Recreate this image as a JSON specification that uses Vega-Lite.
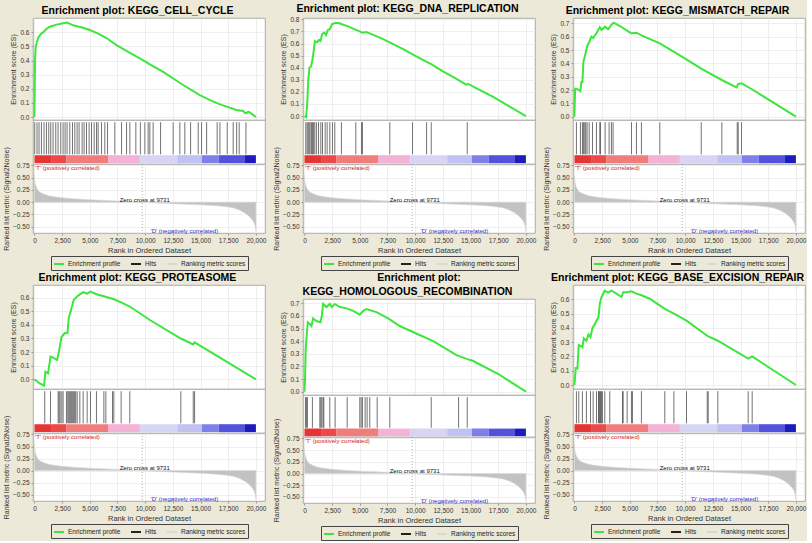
{
"$schema": "https://vega.github.io/schema/vega-lite/v6.json",
"background": "#ece9d8",
"padding": {"left": 2, "top": 3, "right": 0, "bottom": 0},
"datasets": {
"es1": [{"rank":0,"es":0},{"rank":30,"es":0.25},{"rank":60,"es":0.42},{"rank":120,"es":0.5},{"rank":330,"es":0.56},{"rank":600,"es":0.59},{"rank":780,"es":0.6},{"rank":1100,"es":0.625},{"rank":1390,"es":0.64},{"rank":2000,"es":0.655},{"rank":2590,"es":0.665},{"rank":2950,"es":0.67},{"rank":3490,"es":0.65},{"rank":4300,"es":0.635},{"rank":5000,"es":0.617},{"rank":5800,"es":0.59},{"rank":6500,"es":0.56},{"rank":7410,"es":0.51},{"rank":8500,"es":0.46},{"rank":9520,"es":0.416},{"rank":10500,"es":0.37},{"rank":11630,"es":0.32},{"rank":12500,"es":0.275},{"rank":13430,"es":0.227},{"rank":14940,"es":0.156},{"rank":16000,"es":0.115},{"rank":16750,"es":0.09},{"rank":17500,"es":0.07},{"rank":18250,"es":0.05},{"rank":18850,"es":0.043},{"rank":19000,"es":0.03},{"rank":19150,"es":0.028},{"rank":19310,"es":0.038},{"rank":19500,"es":0.03},{"rank":19800,"es":0.012},{"rank":20000,"es":0}],
"es2": [{"rank":0,"es":0},{"rank":150,"es":-0.01},{"rank":250,"es":0.1},{"rank":350,"es":0.3},{"rank":450,"es":0.4},{"rank":600,"es":0.41},{"rank":750,"es":0.48},{"rank":950,"es":0.62},{"rank":1150,"es":0.61},{"rank":1300,"es":0.63},{"rank":1450,"es":0.62},{"rank":1600,"es":0.68},{"rank":1800,"es":0.69},{"rank":1950,"es":0.67},{"rank":2100,"es":0.71},{"rank":2300,"es":0.72},{"rank":2500,"es":0.76},{"rank":2800,"es":0.77},{"rank":3100,"es":0.77},{"rank":3500,"es":0.755},{"rank":4000,"es":0.74},{"rank":4600,"es":0.715},{"rank":5000,"es":0.7},{"rank":5200,"es":0.69},{"rank":5600,"es":0.695},{"rank":6000,"es":0.68},{"rank":7000,"es":0.64},{"rank":7700,"es":0.61},{"rank":9000,"es":0.55},{"rank":9760,"es":0.51},{"rank":11000,"es":0.45},{"rank":11450,"es":0.43},{"rank":12500,"es":0.37},{"rank":13500,"es":0.32},{"rank":14600,"es":0.26},{"rank":14800,"es":0.265},{"rank":15500,"es":0.23},{"rank":17000,"es":0.16},{"rank":18500,"es":0.08},{"rank":20000,"es":0}],
"es3": [{"rank":0,"es":0},{"rank":60,"es":0.21},{"rank":330,"es":0.205},{"rank":540,"es":0.19},{"rank":630,"es":0.26},{"rank":720,"es":0.26},{"rank":810,"es":0.41},{"rank":960,"es":0.46},{"rank":1140,"es":0.525},{"rank":1330,"es":0.56},{"rank":1540,"es":0.6},{"rank":1690,"es":0.59},{"rank":1990,"es":0.625},{"rank":2290,"es":0.67},{"rank":2440,"es":0.65},{"rank":2770,"es":0.675},{"rank":3040,"es":0.655},{"rank":3340,"es":0.69},{"rank":3550,"es":0.705},{"rank":4100,"es":0.68},{"rank":4850,"es":0.64},{"rank":5150,"es":0.625},{"rank":5600,"es":0.63},{"rank":6050,"es":0.61},{"rank":7710,"es":0.55},{"rank":9820,"es":0.445},{"rank":11450,"es":0.36},{"rank":13310,"es":0.275},{"rank":14640,"es":0.22},{"rank":14790,"es":0.245},{"rank":15090,"es":0.25},{"rank":16140,"es":0.2},{"rank":20000,"es":0}],
"es4": [{"rank":0,"es":0},{"rank":480,"es":-0.03},{"rank":870,"es":-0.047},{"rank":990,"es":0.056},{"rank":1230,"es":0.044},{"rank":1450,"es":0.167},{"rank":1690,"es":0.16},{"rank":2050,"es":0.142},{"rank":2230,"es":0.21},{"rank":2440,"es":0.31},{"rank":2740,"es":0.34},{"rank":2980,"es":0.34},{"rank":3100,"es":0.45},{"rank":3340,"es":0.52},{"rank":3550,"es":0.585},{"rank":3950,"es":0.615},{"rank":4400,"es":0.64},{"rank":4760,"es":0.63},{"rank":5060,"es":0.645},{"rank":5600,"es":0.625},{"rank":6270,"es":0.61},{"rank":7110,"es":0.59},{"rank":7830,"es":0.565},{"rank":8610,"es":0.535},{"rank":10420,"es":0.436},{"rank":13220,"es":0.3},{"rank":14340,"es":0.257},{"rank":14460,"es":0.272},{"rank":16450,"es":0.174},{"rank":20000,"es":0}],
"es5": [{"rank":0,"es":0},{"rank":60,"es":0.12},{"rank":120,"es":0.35},{"rank":300,"es":0.55},{"rank":480,"es":0.536},{"rank":630,"es":0.52},{"rank":780,"es":0.58},{"rank":1080,"es":0.56},{"rank":1450,"es":0.55},{"rank":1570,"es":0.6},{"rank":1690,"es":0.695},{"rank":1990,"es":0.67},{"rank":2290,"es":0.695},{"rank":2470,"es":0.67},{"rank":2740,"es":0.695},{"rank":3190,"es":0.67},{"rank":3800,"es":0.66},{"rank":4400,"es":0.64},{"rank":5000,"es":0.61},{"rank":5300,"es":0.64},{"rank":5600,"es":0.655},{"rank":6500,"es":0.63},{"rank":7560,"es":0.58},{"rank":8610,"es":0.52},{"rank":10000,"es":0.465},{"rank":11630,"es":0.4},{"rank":13730,"es":0.29},{"rank":14640,"es":0.26},{"rank":15200,"es":0.245},{"rank":17500,"es":0.14},{"rank":20000,"es":0}],
"es6": [{"rank":0,"es":0},{"rank":120,"es":0.118},{"rank":270,"es":0.114},{"rank":390,"es":0.28},{"rank":630,"es":0.27},{"rank":720,"es":0.265},{"rank":840,"es":0.327},{"rank":1080,"es":0.31},{"rank":1270,"es":0.355},{"rank":1450,"es":0.336},{"rank":1630,"es":0.4},{"rank":1840,"es":0.426},{"rank":1990,"es":0.45},{"rank":2170,"es":0.474},{"rank":2290,"es":0.57},{"rank":2440,"es":0.616},{"rank":2740,"es":0.66},{"rank":3040,"es":0.647},{"rank":3340,"es":0.66},{"rank":3800,"es":0.64},{"rank":4250,"es":0.616},{"rank":4400,"es":0.65},{"rank":4760,"es":0.65},{"rank":5150,"es":0.656},{"rank":5600,"es":0.64},{"rank":6050,"es":0.628},{"rank":6800,"es":0.604},{"rank":8160,"es":0.533},{"rank":8980,"es":0.5},{"rank":10120,"es":0.45},{"rank":11990,"es":0.345},{"rank":12080,"es":0.34},{"rank":12950,"es":0.31},{"rank":15690,"es":0.185},{"rank":16050,"es":0.2},{"rank":20000,"es":0}],
"hits1": [{"rank":27},{"rank":235},{"rank":416},{"rank":633},{"rank":868},{"rank":1085},{"rank":1293},{"rank":1474},{"rank":1682},{"rank":1926},{"rank":2134},{"rank":2378},{"rank":2586},{"rank":2766},{"rank":2947},{"rank":3191},{"rank":3435},{"rank":3644},{"rank":3852},{"rank":4033},{"rank":4304},{"rank":4485},{"rank":4702},{"rank":4937},{"rank":5154},{"rank":5390},{"rank":5607},{"rank":5751},{"rank":6058},{"rank":6356},{"rank":6601},{"rank":7260},{"rank":7866},{"rank":8318},{"rank":8616},{"rank":9158},{"rank":9566},{"rank":9972},{"rank":10270},{"rank":10420},{"rank":10720},{"rank":11390},{"rank":12530},{"rank":13130},{"rank":13580},{"rank":14100},{"rank":14790},{"rank":15090},{"rank":15550},{"rank":16500},{"rank":16750},{"rank":17410},{"rank":17950},{"rank":18260},{"rank":18490},{"rank":19100}],
"hits2": [{"rank":120},{"rank":240},{"rank":330},{"rank":420},{"rank":510},{"rank":630},{"rank":720},{"rank":810},{"rank":930},{"rank":1080},{"rank":1270},{"rank":1480},{"rank":1630},{"rank":1870},{"rank":2050},{"rank":2290},{"rank":2530},{"rank":2740},{"rank":3340},{"rank":4640},{"rank":5150},{"rank":5240},{"rank":7710},{"rank":9760},{"rank":11030},{"rank":11450},{"rank":14700}],
"hits3": [{"rank":180},{"rank":540},{"rank":720},{"rank":810},{"rank":930},{"rank":1020},{"rank":1140},{"rank":1330},{"rank":1630},{"rank":1990},{"rank":2290},{"rank":2350},{"rank":2770},{"rank":3130},{"rank":3340},{"rank":3490},{"rank":5150},{"rank":5600},{"rank":6050},{"rank":7710},{"rank":11450},{"rank":13310},{"rank":14700},{"rank":14790},{"rank":15090}],
"hits4": [{"rank":930},{"rank":1450},{"rank":2140},{"rank":2230},{"rank":2320},{"rank":2470},{"rank":2590},{"rank":2890},{"rank":3010},{"rank":3100},{"rank":3190},{"rank":3280},{"rank":3370},{"rank":3460},{"rank":3550},{"rank":3640},{"rank":3730},{"rank":3860},{"rank":4100},{"rank":4400},{"rank":4760},{"rank":5060},{"rank":5600},{"rank":6270},{"rank":6450},{"rank":7050},{"rank":7170},{"rank":7830},{"rank":8610},{"rank":13220},{"rank":14340},{"rank":14460}],
"hits5": [{"rank":90},{"rank":180},{"rank":270},{"rank":720},{"rank":1390},{"rank":1480},{"rank":1570},{"rank":1690},{"rank":1750},{"rank":2290},{"rank":2770},{"rank":3860},{"rank":5000},{"rank":5120},{"rank":5240},{"rank":5480},{"rank":5660},{"rank":5900},{"rank":6570},{"rank":7710},{"rank":11450},{"rank":13920},{"rank":14700}],
"hits6": [{"rank":180},{"rank":390},{"rank":720},{"rank":1080},{"rank":1450},{"rank":1690},{"rank":1990},{"rank":2170},{"rank":2230},{"rank":2290},{"rank":2350},{"rank":2440},{"rank":2530},{"rank":2740},{"rank":3190},{"rank":4340},{"rank":4400},{"rank":4760},{"rank":5150},{"rank":5240},{"rank":6050},{"rank":8160},{"rank":8980},{"rank":10120},{"rank":11990},{"rank":12080},{"rank":12950},{"rank":15690},{"rank":16050}],
"metric": [{"rank":0,"metric":0.55},{"rank":30,"metric":0.45},{"rank":80,"metric":0.38},{"rank":150,"metric":0.32},{"rank":250,"metric":0.27},{"rank":400,"metric":0.22},{"rank":600,"metric":0.19},{"rank":900,"metric":0.16},{"rank":1300,"metric":0.13},{"rank":1800,"metric":0.11},{"rank":2500,"metric":0.09},{"rank":3500,"metric":0.07},{"rank":5000,"metric":0.05},{"rank":6500,"metric":0.035},{"rank":8000,"metric":0.02},{"rank":9000,"metric":0.01},{"rank":9731,"metric":0},{"rank":10500,"metric":-0.01},{"rank":12000,"metric":-0.025},{"rank":13500,"metric":-0.04},{"rank":15000,"metric":-0.055},{"rank":16500,"metric":-0.075},{"rank":17500,"metric":-0.1},{"rank":18000,"metric":-0.12},{"rank":18500,"metric":-0.16},{"rank":19000,"metric":-0.22},{"rank":19300,"metric":-0.27},{"rank":19600,"metric":-0.34},{"rank":19800,"metric":-0.4},{"rank":19950,"metric":-0.5},{"rank":20000,"metric":-0.6}],
"colorbar": [{"seg":"1","start":0,"end":1500},{"seg":"2","start":1500,"end":2900},{"seg":"3","start":2900,"end":6690},{"seg":"4","start":6690,"end":9520},{"seg":"5","start":9520,"end":12890},{"seg":"6","start":12890,"end":15120},{"seg":"7","start":15120,"end":16630},{"seg":"8","start":16630,"end":19010},{"seg":"9","start":19010,"end":20000}],
"zero": [{"rank":9731}],
"notes": [{"rank":60,"metric":0.7,"label":"'T' (positively correlated)","kind":"pos"},{"rank":7700,"metric":0.05,"label":"Zero cross at 9731","kind":"zero"},{"rank":10480,"metric":-0.58,"label":"'D' (negatively correlated)","kind":"neg"}],
"none": []
},
"spacing": 1,
"resolve": {"scale": {"stroke": "independent"}, "legend": {"stroke": "independent"}},
"vconcat": [
{"spacing": 5, "resolve": {"scale": {"stroke": "independent"}, "legend": {"stroke": "independent"}},
 "hconcat": [
 {"spacing": 0, "bounds": "flush", "resolve": {"scale": {"stroke": "independent"}, "legend": {"stroke": "independent"}},
  "vconcat": [
  {"width": 232, "height": 102, "title": {"text": "Enrichment plot: KEGG_CELL_CYCLE"}, "data": {"name": "es1"},
   "mark": {"type": "line", "color": "#3de63d", "strokeWidth": 2, "clip": true},
   "encoding": {"x": {"field": "rank", "type": "quantitative", "scale": {"domain": [-130, 20820], "nice": false, "zero": false}, "axis": {"labels": false, "ticks": false, "title": null, "values": [0,2500,5000,7500,10000,12500,15000,17500,20000], "tickCount": 20}},
    "y": {"field": "es", "type": "quantitative", "scale": {"domain": [-0.021, 0.702], "nice": false, "zero": false}, "axis": {"title": "Enrichment score (ES)", "values": [0,0.1,0.2,0.3,0.4,0.5,0.6], "format": ".1f", "labelOverlap": false, "tickCount": 20}}}},
  {"width": 232, "height": 44, "layer": [
   {"data": {"name": "colorbar"}, "mark": {"type": "rect"}, "encoding": {"x": {"field": "start", "type": "quantitative", "scale": {"domain": [-130, 20820], "nice": false, "zero": false}, "axis": null}, "x2": {"field": "end"}, "y": {"datum": 0.02, "type": "quantitative", "scale": {"domain": [0, 1], "nice": false}, "axis": null}, "y2": {"datum": 0.2}, "color": {"field": "seg", "type": "nominal", "scale": {"domain": ["1","2","3","4","5","6","7","8","9"], "range": ["#e53434","#ec4a4a","#f07c7c","#f4b2d6","#d6d6f4","#c2c2f2","#7f7fea","#5252dc","#1c1cbe"]}, "legend": null}}},
   {"data": {"name": "hits1"}, "mark": {"type": "rule", "color": "#3a3a3a", "strokeWidth": 0.9, "opacity": 0.8}, "encoding": {"x": {"field": "rank", "type": "quantitative"}, "y": {"datum": 0.22}, "y2": {"datum": 0.95}}}
  ]},
  {"width": 232, "height": 69, "layer": [
   {"data": {"name": "metric"}, "mark": {"type": "area", "fill": "#c2c2c2", "strokeWidth": 0.6, "clip": true},
    "encoding": {"x": {"field": "rank", "type": "quantitative", "scale": {"domain": [-130, 20820], "nice": false, "zero": false}, "axis": {"title": "Rank in Ordered Dataset", "titleFontSize": 7.5, "values": [0,2500,5000,7500,10000,12500,15000,17500,20000], "format": ",d", "labelOverlap": false, "tickCount": 20}},
     "y": {"field": "metric", "type": "quantitative", "scale": {"domain": [-0.63, 0.78], "nice": false, "zero": false}, "axis": {"title": "Ranked list metric (Signal2Noise)", "values": [-0.5,-0.25,0,0.25,0.5,0.75], "format": ".2f", "labelOverlap": false, "tickCount": 20}},
     "y2": {"datum": 0},
     "stroke": {"datum": "Ranking metric scores", "type": "nominal", "scale": {"domain": ["Enrichment profile","Hits","Ranking metric scores"], "range": ["#3de63d","#222222","#d8d8d8"]}, "legend": {"title": null, "orient": "bottom", "direction": "horizontal", "symbolType": "stroke", "symbolSize": 100, "symbolStrokeWidth": 2, "labelFontSize": 6.5, "labelFont": "Liberation Sans", "labelColor": "#222", "strokeColor": "#444", "padding": 2, "columnPadding": 6, "offset": 2, "labelOffset": 3}}}},
   {"data": {"name": "zero"}, "mark": {"type": "rule", "color": "#999", "strokeDash": [1, 2], "strokeWidth": 0.8}, "encoding": {"x": {"field": "rank", "type": "quantitative"}}},
   {"data": {"name": "notes"}, "transform": [{"filter": {"field": "kind", "equal": "pos"}}], "mark": {"type": "text", "fontSize": 6, "font": "Liberation Sans", "align": "left", "baseline": "middle", "color": "#d02020"}, "encoding": {"x": {"field": "rank", "type": "quantitative"}, "y": {"field": "metric", "type": "quantitative"}, "text": {"field": "label"}}},
   {"data": {"name": "notes"}, "transform": [{"filter": {"field": "kind", "equal": "zero"}}], "mark": {"type": "text", "fontSize": 6, "font": "Liberation Sans", "align": "left", "baseline": "middle", "color": "#111"}, "encoding": {"x": {"field": "rank", "type": "quantitative"}, "y": {"field": "metric", "type": "quantitative"}, "text": {"field": "label"}}},
   {"data": {"name": "notes"}, "transform": [{"filter": {"field": "kind", "equal": "neg"}}], "mark": {"type": "text", "fontSize": 6, "font": "Liberation Sans", "align": "left", "baseline": "middle", "color": "#3030c0"}, "encoding": {"x": {"field": "rank", "type": "quantitative"}, "y": {"field": "metric", "type": "quantitative"}, "text": {"field": "label"}}}
  ]}
 ]},
 {"spacing": 0, "bounds": "flush", "resolve": {"scale": {"stroke": "independent"}, "legend": {"stroke": "independent"}},
  "vconcat": [
  {"width": 232, "height": 102, "title": {"text": "Enrichment plot: KEGG_DNA_REPLICATION"}, "data": {"name": "es2"},
   "mark": {"type": "line", "color": "#3de63d", "strokeWidth": 2, "clip": true},
   "encoding": {"x": {"field": "rank", "type": "quantitative", "scale": {"domain": [-130, 20820], "nice": false, "zero": false}, "axis": {"labels": false, "ticks": false, "title": null, "values": [0,2500,5000,7500,10000,12500,15000,17500,20000], "tickCount": 20}},
    "y": {"field": "es", "type": "quantitative", "scale": {"domain": [-0.033, 0.811], "nice": false, "zero": false}, "axis": {"title": "Enrichment score (ES)", "values": [0,0.1,0.2,0.3,0.4,0.5,0.6,0.7,0.8], "format": ".1f", "labelOverlap": false, "tickCount": 20}}}},
  {"width": 232, "height": 44, "layer": [
   {"data": {"name": "colorbar"}, "mark": {"type": "rect"}, "encoding": {"x": {"field": "start", "type": "quantitative", "scale": {"domain": [-130, 20820], "nice": false, "zero": false}, "axis": null}, "x2": {"field": "end"}, "y": {"datum": 0.02, "type": "quantitative", "scale": {"domain": [0, 1], "nice": false}, "axis": null}, "y2": {"datum": 0.2}, "color": {"field": "seg", "type": "nominal", "scale": {"domain": ["1","2","3","4","5","6","7","8","9"], "range": ["#e53434","#ec4a4a","#f07c7c","#f4b2d6","#d6d6f4","#c2c2f2","#7f7fea","#5252dc","#1c1cbe"]}, "legend": null}}},
   {"data": {"name": "hits2"}, "mark": {"type": "rule", "color": "#3a3a3a", "strokeWidth": 0.9, "opacity": 0.8}, "encoding": {"x": {"field": "rank", "type": "quantitative"}, "y": {"datum": 0.22}, "y2": {"datum": 0.95}}}
  ]},
  {"width": 232, "height": 69, "layer": [
   {"data": {"name": "metric"}, "mark": {"type": "area", "fill": "#c2c2c2", "strokeWidth": 0.6, "clip": true},
    "encoding": {"x": {"field": "rank", "type": "quantitative", "scale": {"domain": [-130, 20820], "nice": false, "zero": false}, "axis": {"title": "Rank in Ordered Dataset", "titleFontSize": 7.5, "values": [0,2500,5000,7500,10000,12500,15000,17500,20000], "format": ",d", "labelOverlap": false, "tickCount": 20}},
     "y": {"field": "metric", "type": "quantitative", "scale": {"domain": [-0.63, 0.78], "nice": false, "zero": false}, "axis": {"title": "Ranked list metric (Signal2Noise)", "values": [-0.5,-0.25,0,0.25,0.5,0.75], "format": ".2f", "labelOverlap": false, "tickCount": 20}},
     "y2": {"datum": 0},
     "stroke": {"datum": "Ranking metric scores", "type": "nominal", "scale": {"domain": ["Enrichment profile","Hits","Ranking metric scores"], "range": ["#3de63d","#222222","#d8d8d8"]}, "legend": {"title": null, "orient": "bottom", "direction": "horizontal", "symbolType": "stroke", "symbolSize": 100, "symbolStrokeWidth": 2, "labelFontSize": 6.5, "labelFont": "Liberation Sans", "labelColor": "#222", "strokeColor": "#444", "padding": 2, "columnPadding": 6, "offset": 2, "labelOffset": 3}}}},
   {"data": {"name": "zero"}, "mark": {"type": "rule", "color": "#999", "strokeDash": [1, 2], "strokeWidth": 0.8}, "encoding": {"x": {"field": "rank", "type": "quantitative"}}},
   {"data": {"name": "notes"}, "transform": [{"filter": {"field": "kind", "equal": "pos"}}], "mark": {"type": "text", "fontSize": 6, "font": "Liberation Sans", "align": "left", "baseline": "middle", "color": "#d02020"}, "encoding": {"x": {"field": "rank", "type": "quantitative"}, "y": {"field": "metric", "type": "quantitative"}, "text": {"field": "label"}}},
   {"data": {"name": "notes"}, "transform": [{"filter": {"field": "kind", "equal": "zero"}}], "mark": {"type": "text", "fontSize": 6, "font": "Liberation Sans", "align": "left", "baseline": "middle", "color": "#111"}, "encoding": {"x": {"field": "rank", "type": "quantitative"}, "y": {"field": "metric", "type": "quantitative"}, "text": {"field": "label"}}},
   {"data": {"name": "notes"}, "transform": [{"filter": {"field": "kind", "equal": "neg"}}], "mark": {"type": "text", "fontSize": 6, "font": "Liberation Sans", "align": "left", "baseline": "middle", "color": "#3030c0"}, "encoding": {"x": {"field": "rank", "type": "quantitative"}, "y": {"field": "metric", "type": "quantitative"}, "text": {"field": "label"}}}
  ]}
 ]},
 {"spacing": 0, "bounds": "flush", "resolve": {"scale": {"stroke": "independent"}, "legend": {"stroke": "independent"}},
  "vconcat": [
  {"width": 232, "height": 102, "title": {"text": "Enrichment plot: KEGG_MISMATCH_REPAIR"}, "data": {"name": "es3"},
   "mark": {"type": "line", "color": "#3de63d", "strokeWidth": 2, "clip": true},
   "encoding": {"x": {"field": "rank", "type": "quantitative", "scale": {"domain": [-130, 20820], "nice": false, "zero": false}, "axis": {"labels": false, "ticks": false, "title": null, "values": [0,2500,5000,7500,10000,12500,15000,17500,20000], "tickCount": 20}},
    "y": {"field": "es", "type": "quantitative", "scale": {"domain": [-0.025, 0.74], "nice": false, "zero": false}, "axis": {"title": "Enrichment score (ES)", "values": [0,0.1,0.2,0.3,0.4,0.5,0.6,0.7], "format": ".1f", "labelOverlap": false, "tickCount": 20}}}},
  {"width": 232, "height": 44, "layer": [
   {"data": {"name": "colorbar"}, "mark": {"type": "rect"}, "encoding": {"x": {"field": "start", "type": "quantitative", "scale": {"domain": [-130, 20820], "nice": false, "zero": false}, "axis": null}, "x2": {"field": "end"}, "y": {"datum": 0.02, "type": "quantitative", "scale": {"domain": [0, 1], "nice": false}, "axis": null}, "y2": {"datum": 0.2}, "color": {"field": "seg", "type": "nominal", "scale": {"domain": ["1","2","3","4","5","6","7","8","9"], "range": ["#e53434","#ec4a4a","#f07c7c","#f4b2d6","#d6d6f4","#c2c2f2","#7f7fea","#5252dc","#1c1cbe"]}, "legend": null}}},
   {"data": {"name": "hits3"}, "mark": {"type": "rule", "color": "#3a3a3a", "strokeWidth": 0.9, "opacity": 0.8}, "encoding": {"x": {"field": "rank", "type": "quantitative"}, "y": {"datum": 0.22}, "y2": {"datum": 0.95}}}
  ]},
  {"width": 232, "height": 69, "layer": [
   {"data": {"name": "metric"}, "mark": {"type": "area", "fill": "#c2c2c2", "strokeWidth": 0.6, "clip": true},
    "encoding": {"x": {"field": "rank", "type": "quantitative", "scale": {"domain": [-130, 20820], "nice": false, "zero": false}, "axis": {"title": "Rank in Ordered Dataset", "titleFontSize": 7.5, "values": [0,2500,5000,7500,10000,12500,15000,17500,20000], "format": ",d", "labelOverlap": false, "tickCount": 20}},
     "y": {"field": "metric", "type": "quantitative", "scale": {"domain": [-0.63, 0.78], "nice": false, "zero": false}, "axis": {"title": "Ranked list metric (Signal2Noise)", "values": [-0.5,-0.25,0,0.25,0.5,0.75], "format": ".2f", "labelOverlap": false, "tickCount": 20}},
     "y2": {"datum": 0},
     "stroke": {"datum": "Ranking metric scores", "type": "nominal", "scale": {"domain": ["Enrichment profile","Hits","Ranking metric scores"], "range": ["#3de63d","#222222","#d8d8d8"]}, "legend": {"title": null, "orient": "bottom", "direction": "horizontal", "symbolType": "stroke", "symbolSize": 100, "symbolStrokeWidth": 2, "labelFontSize": 6.5, "labelFont": "Liberation Sans", "labelColor": "#222", "strokeColor": "#444", "padding": 2, "columnPadding": 6, "offset": 2, "labelOffset": 3}}}},
   {"data": {"name": "zero"}, "mark": {"type": "rule", "color": "#999", "strokeDash": [1, 2], "strokeWidth": 0.8}, "encoding": {"x": {"field": "rank", "type": "quantitative"}}},
   {"data": {"name": "notes"}, "transform": [{"filter": {"field": "kind", "equal": "pos"}}], "mark": {"type": "text", "fontSize": 6, "font": "Liberation Sans", "align": "left", "baseline": "middle", "color": "#d02020"}, "encoding": {"x": {"field": "rank", "type": "quantitative"}, "y": {"field": "metric", "type": "quantitative"}, "text": {"field": "label"}}},
   {"data": {"name": "notes"}, "transform": [{"filter": {"field": "kind", "equal": "zero"}}], "mark": {"type": "text", "fontSize": 6, "font": "Liberation Sans", "align": "left", "baseline": "middle", "color": "#111"}, "encoding": {"x": {"field": "rank", "type": "quantitative"}, "y": {"field": "metric", "type": "quantitative"}, "text": {"field": "label"}}},
   {"data": {"name": "notes"}, "transform": [{"filter": {"field": "kind", "equal": "neg"}}], "mark": {"type": "text", "fontSize": 6, "font": "Liberation Sans", "align": "left", "baseline": "middle", "color": "#3030c0"}, "encoding": {"x": {"field": "rank", "type": "quantitative"}, "y": {"field": "metric", "type": "quantitative"}, "text": {"field": "label"}}}
  ]}
 ]}
 ]},
{"spacing": 5, "resolve": {"scale": {"stroke": "independent"}, "legend": {"stroke": "independent"}},
 "hconcat": [
 {"spacing": 0, "bounds": "flush", "resolve": {"scale": {"stroke": "independent"}, "legend": {"stroke": "independent"}},
  "vconcat": [
  {"width": 232, "height": 104, "title": {"text": "Enrichment plot: KEGG_PROTEASOME"}, "data": {"name": "es4"},
   "mark": {"type": "line", "color": "#3de63d", "strokeWidth": 2, "clip": true},
   "encoding": {"x": {"field": "rank", "type": "quantitative", "scale": {"domain": [-130, 20820], "nice": false, "zero": false}, "axis": {"labels": false, "ticks": false, "title": null, "values": [0,2500,5000,7500,10000,12500,15000,17500,20000], "tickCount": 20}},
    "y": {"field": "es", "type": "quantitative", "scale": {"domain": [-0.071, 0.693], "nice": false, "zero": false}, "axis": {"title": "Enrichment score (ES)", "values": [0,0.1,0.2,0.3,0.4,0.5,0.6], "format": ".1f", "labelOverlap": false, "tickCount": 20}}}},
  {"width": 232, "height": 44, "layer": [
   {"data": {"name": "colorbar"}, "mark": {"type": "rect"}, "encoding": {"x": {"field": "start", "type": "quantitative", "scale": {"domain": [-130, 20820], "nice": false, "zero": false}, "axis": null}, "x2": {"field": "end"}, "y": {"datum": 0.02, "type": "quantitative", "scale": {"domain": [0, 1], "nice": false}, "axis": null}, "y2": {"datum": 0.2}, "color": {"field": "seg", "type": "nominal", "scale": {"domain": ["1","2","3","4","5","6","7","8","9"], "range": ["#e53434","#ec4a4a","#f07c7c","#f4b2d6","#d6d6f4","#c2c2f2","#7f7fea","#5252dc","#1c1cbe"]}, "legend": null}}},
   {"data": {"name": "hits4"}, "mark": {"type": "rule", "color": "#3a3a3a", "strokeWidth": 0.9, "opacity": 0.8}, "encoding": {"x": {"field": "rank", "type": "quantitative"}, "y": {"datum": 0.22}, "y2": {"datum": 0.95}}}
  ]},
  {"width": 232, "height": 68, "layer": [
   {"data": {"name": "metric"}, "mark": {"type": "area", "fill": "#c2c2c2", "strokeWidth": 0.6, "clip": true},
    "encoding": {"x": {"field": "rank", "type": "quantitative", "scale": {"domain": [-130, 20820], "nice": false, "zero": false}, "axis": {"title": "Rank in Ordered Dataset", "titleFontSize": 7.5, "values": [0,2500,5000,7500,10000,12500,15000,17500,20000], "format": ",d", "labelOverlap": false, "tickCount": 20}},
     "y": {"field": "metric", "type": "quantitative", "scale": {"domain": [-0.63, 0.78], "nice": false, "zero": false}, "axis": {"title": "Ranked list metric (Signal2Noise)", "values": [-0.5,-0.25,0,0.25,0.5,0.75], "format": ".2f", "labelOverlap": false, "tickCount": 20}},
     "y2": {"datum": 0},
     "stroke": {"datum": "Ranking metric scores", "type": "nominal", "scale": {"domain": ["Enrichment profile","Hits","Ranking metric scores"], "range": ["#3de63d","#222222","#d8d8d8"]}, "legend": {"title": null, "orient": "bottom", "direction": "horizontal", "symbolType": "stroke", "symbolSize": 100, "symbolStrokeWidth": 2, "labelFontSize": 6.5, "labelFont": "Liberation Sans", "labelColor": "#222", "strokeColor": "#444", "padding": 2, "columnPadding": 6, "offset": 2, "labelOffset": 3}}}},
   {"data": {"name": "zero"}, "mark": {"type": "rule", "color": "#999", "strokeDash": [1, 2], "strokeWidth": 0.8}, "encoding": {"x": {"field": "rank", "type": "quantitative"}}},
   {"data": {"name": "notes"}, "transform": [{"filter": {"field": "kind", "equal": "pos"}}], "mark": {"type": "text", "fontSize": 6, "font": "Liberation Sans", "align": "left", "baseline": "middle", "color": "#d02020"}, "encoding": {"x": {"field": "rank", "type": "quantitative"}, "y": {"field": "metric", "type": "quantitative"}, "text": {"field": "label"}}},
   {"data": {"name": "notes"}, "transform": [{"filter": {"field": "kind", "equal": "zero"}}], "mark": {"type": "text", "fontSize": 6, "font": "Liberation Sans", "align": "left", "baseline": "middle", "color": "#111"}, "encoding": {"x": {"field": "rank", "type": "quantitative"}, "y": {"field": "metric", "type": "quantitative"}, "text": {"field": "label"}}},
   {"data": {"name": "notes"}, "transform": [{"filter": {"field": "kind", "equal": "neg"}}], "mark": {"type": "text", "fontSize": 6, "font": "Liberation Sans", "align": "left", "baseline": "middle", "color": "#3030c0"}, "encoding": {"x": {"field": "rank", "type": "quantitative"}, "y": {"field": "metric", "type": "quantitative"}, "text": {"field": "label"}}}
  ]}
 ]},
 {"spacing": 0, "bounds": "flush", "resolve": {"scale": {"stroke": "independent"}, "legend": {"stroke": "independent"}},
  "vconcat": [
  {"width": 232, "height": 14, "title": {"text": "Enrichment plot:"}, "data": {"name": "none"}, "view": {"stroke": null, "fill": null},
   "mark": {"type": "point", "opacity": 0}, "encoding": {}},
  {"width": 232, "height": 96, "title": {"text": "KEGG_HOMOLOGOUS_RECOMBINATION"}, "data": {"name": "es5"},
   "mark": {"type": "line", "color": "#3de63d", "strokeWidth": 2, "clip": true},
   "encoding": {"x": {"field": "rank", "type": "quantitative", "scale": {"domain": [-130, 20820], "nice": false, "zero": false}, "axis": {"labels": false, "ticks": false, "title": null, "values": [0,2500,5000,7500,10000,12500,15000,17500,20000], "tickCount": 20}},
    "y": {"field": "es", "type": "quantitative", "scale": {"domain": [-0.026, 0.734], "nice": false, "zero": false}, "axis": {"title": "Enrichment score (ES)", "values": [0,0.1,0.2,0.3,0.4,0.5,0.6,0.7], "format": ".1f", "labelOverlap": false, "tickCount": 20}}}},
  {"width": 232, "height": 42, "layer": [
   {"data": {"name": "colorbar"}, "mark": {"type": "rect"}, "encoding": {"x": {"field": "start", "type": "quantitative", "scale": {"domain": [-130, 20820], "nice": false, "zero": false}, "axis": null}, "x2": {"field": "end"}, "y": {"datum": 0.02, "type": "quantitative", "scale": {"domain": [0, 1], "nice": false}, "axis": null}, "y2": {"datum": 0.2}, "color": {"field": "seg", "type": "nominal", "scale": {"domain": ["1","2","3","4","5","6","7","8","9"], "range": ["#e53434","#ec4a4a","#f07c7c","#f4b2d6","#d6d6f4","#c2c2f2","#7f7fea","#5252dc","#1c1cbe"]}, "legend": null}}},
   {"data": {"name": "hits5"}, "mark": {"type": "rule", "color": "#3a3a3a", "strokeWidth": 0.9, "opacity": 0.8}, "encoding": {"x": {"field": "rank", "type": "quantitative"}, "y": {"datum": 0.22}, "y2": {"datum": 0.95}}}
  ]},
  {"width": 232, "height": 66, "layer": [
   {"data": {"name": "metric"}, "mark": {"type": "area", "fill": "#c2c2c2", "strokeWidth": 0.6, "clip": true},
    "encoding": {"x": {"field": "rank", "type": "quantitative", "scale": {"domain": [-130, 20820], "nice": false, "zero": false}, "axis": {"title": "Rank in Ordered Dataset", "titleFontSize": 7.5, "values": [0,2500,5000,7500,10000,12500,15000,17500,20000], "format": ",d", "labelOverlap": false, "tickCount": 20}},
     "y": {"field": "metric", "type": "quantitative", "scale": {"domain": [-0.63, 0.78], "nice": false, "zero": false}, "axis": {"title": "Ranked list metric (Signal2Noise)", "values": [-0.5,-0.25,0,0.25,0.5,0.75], "format": ".2f", "labelOverlap": false, "tickCount": 20}},
     "y2": {"datum": 0},
     "stroke": {"datum": "Ranking metric scores", "type": "nominal", "scale": {"domain": ["Enrichment profile","Hits","Ranking metric scores"], "range": ["#3de63d","#222222","#d8d8d8"]}, "legend": {"title": null, "orient": "bottom", "direction": "horizontal", "symbolType": "stroke", "symbolSize": 100, "symbolStrokeWidth": 2, "labelFontSize": 6.5, "labelFont": "Liberation Sans", "labelColor": "#222", "strokeColor": "#444", "padding": 2, "columnPadding": 6, "offset": 2, "labelOffset": 3}}}},
   {"data": {"name": "zero"}, "mark": {"type": "rule", "color": "#999", "strokeDash": [1, 2], "strokeWidth": 0.8}, "encoding": {"x": {"field": "rank", "type": "quantitative"}}},
   {"data": {"name": "notes"}, "transform": [{"filter": {"field": "kind", "equal": "pos"}}], "mark": {"type": "text", "fontSize": 6, "font": "Liberation Sans", "align": "left", "baseline": "middle", "color": "#d02020"}, "encoding": {"x": {"field": "rank", "type": "quantitative"}, "y": {"field": "metric", "type": "quantitative"}, "text": {"field": "label"}}},
   {"data": {"name": "notes"}, "transform": [{"filter": {"field": "kind", "equal": "zero"}}], "mark": {"type": "text", "fontSize": 6, "font": "Liberation Sans", "align": "left", "baseline": "middle", "color": "#111"}, "encoding": {"x": {"field": "rank", "type": "quantitative"}, "y": {"field": "metric", "type": "quantitative"}, "text": {"field": "label"}}},
   {"data": {"name": "notes"}, "transform": [{"filter": {"field": "kind", "equal": "neg"}}], "mark": {"type": "text", "fontSize": 6, "font": "Liberation Sans", "align": "left", "baseline": "middle", "color": "#3030c0"}, "encoding": {"x": {"field": "rank", "type": "quantitative"}, "y": {"field": "metric", "type": "quantitative"}, "text": {"field": "label"}}}
  ]}
 ]},
 {"spacing": 0, "bounds": "flush", "resolve": {"scale": {"stroke": "independent"}, "legend": {"stroke": "independent"}},
  "vconcat": [
  {"width": 232, "height": 104, "title": {"text": "Enrichment plot: KEGG_BASE_EXCISION_REPAIR"}, "data": {"name": "es6"},
   "mark": {"type": "line", "color": "#3de63d", "strokeWidth": 2, "clip": true},
   "encoding": {"x": {"field": "rank", "type": "quantitative", "scale": {"domain": [-130, 20820], "nice": false, "zero": false}, "axis": {"labels": false, "ticks": false, "title": null, "values": [0,2500,5000,7500,10000,12500,15000,17500,20000], "tickCount": 20}},
    "y": {"field": "es", "type": "quantitative", "scale": {"domain": [-0.028, 0.70], "nice": false, "zero": false}, "axis": {"title": "Enrichment score (ES)", "values": [0,0.1,0.2,0.3,0.4,0.5,0.6], "format": ".1f", "labelOverlap": false, "tickCount": 20}}}},
  {"width": 232, "height": 44, "layer": [
   {"data": {"name": "colorbar"}, "mark": {"type": "rect"}, "encoding": {"x": {"field": "start", "type": "quantitative", "scale": {"domain": [-130, 20820], "nice": false, "zero": false}, "axis": null}, "x2": {"field": "end"}, "y": {"datum": 0.02, "type": "quantitative", "scale": {"domain": [0, 1], "nice": false}, "axis": null}, "y2": {"datum": 0.2}, "color": {"field": "seg", "type": "nominal", "scale": {"domain": ["1","2","3","4","5","6","7","8","9"], "range": ["#e53434","#ec4a4a","#f07c7c","#f4b2d6","#d6d6f4","#c2c2f2","#7f7fea","#5252dc","#1c1cbe"]}, "legend": null}}},
   {"data": {"name": "hits6"}, "mark": {"type": "rule", "color": "#3a3a3a", "strokeWidth": 0.9, "opacity": 0.8}, "encoding": {"x": {"field": "rank", "type": "quantitative"}, "y": {"datum": 0.22}, "y2": {"datum": 0.95}}}
  ]},
  {"width": 232, "height": 68, "layer": [
   {"data": {"name": "metric"}, "mark": {"type": "area", "fill": "#c2c2c2", "strokeWidth": 0.6, "clip": true},
    "encoding": {"x": {"field": "rank", "type": "quantitative", "scale": {"domain": [-130, 20820], "nice": false, "zero": false}, "axis": {"title": "Rank in Ordered Dataset", "titleFontSize": 7.5, "values": [0,2500,5000,7500,10000,12500,15000,17500,20000], "format": ",d", "labelOverlap": false, "tickCount": 20}},
     "y": {"field": "metric", "type": "quantitative", "scale": {"domain": [-0.63, 0.78], "nice": false, "zero": false}, "axis": {"title": "Ranked list metric (Signal2Noise)", "values": [-0.5,-0.25,0,0.25,0.5,0.75], "format": ".2f", "labelOverlap": false, "tickCount": 20}},
     "y2": {"datum": 0},
     "stroke": {"datum": "Ranking metric scores", "type": "nominal", "scale": {"domain": ["Enrichment profile","Hits","Ranking metric scores"], "range": ["#3de63d","#222222","#d8d8d8"]}, "legend": {"title": null, "orient": "bottom", "direction": "horizontal", "symbolType": "stroke", "symbolSize": 100, "symbolStrokeWidth": 2, "labelFontSize": 6.5, "labelFont": "Liberation Sans", "labelColor": "#222", "strokeColor": "#444", "padding": 2, "columnPadding": 6, "offset": 2, "labelOffset": 3}}}},
   {"data": {"name": "zero"}, "mark": {"type": "rule", "color": "#999", "strokeDash": [1, 2], "strokeWidth": 0.8}, "encoding": {"x": {"field": "rank", "type": "quantitative"}}},
   {"data": {"name": "notes"}, "transform": [{"filter": {"field": "kind", "equal": "pos"}}], "mark": {"type": "text", "fontSize": 6, "font": "Liberation Sans", "align": "left", "baseline": "middle", "color": "#d02020"}, "encoding": {"x": {"field": "rank", "type": "quantitative"}, "y": {"field": "metric", "type": "quantitative"}, "text": {"field": "label"}}},
   {"data": {"name": "notes"}, "transform": [{"filter": {"field": "kind", "equal": "zero"}}], "mark": {"type": "text", "fontSize": 6, "font": "Liberation Sans", "align": "left", "baseline": "middle", "color": "#111"}, "encoding": {"x": {"field": "rank", "type": "quantitative"}, "y": {"field": "metric", "type": "quantitative"}, "text": {"field": "label"}}},
   {"data": {"name": "notes"}, "transform": [{"filter": {"field": "kind", "equal": "neg"}}], "mark": {"type": "text", "fontSize": 6, "font": "Liberation Sans", "align": "left", "baseline": "middle", "color": "#3030c0"}, "encoding": {"x": {"field": "rank", "type": "quantitative"}, "y": {"field": "metric", "type": "quantitative"}, "text": {"field": "label"}}}
  ]}
 ]}
 ]}
],
"config": {
 "view": {"fill": "white", "stroke": "#9a9a9a", "strokeWidth": 0.8},
 "axis": {"labelFont": "Liberation Sans", "titleFont": "Liberation Sans", "labelFontSize": 6.5, "titleFontSize": 7, "titleFontWeight": "normal", "labelColor": "#333", "titleColor": "#333", "gridColor": "#e4e4e4", "gridWidth": 0.6, "domain": false, "tickSize": 2, "tickColor": "#999", "labelPadding": 2, "titlePadding": 3, "labelOverlap": false},
 "legend": {"layout": {"bottom": {"anchor": "middle"}}},
 "title": {"font": "Liberation Sans", "fontSize": 10.5, "fontWeight": "bold", "color": "#000", "anchor": "middle", "frame": "bounds", "offset": 2}
}
}
